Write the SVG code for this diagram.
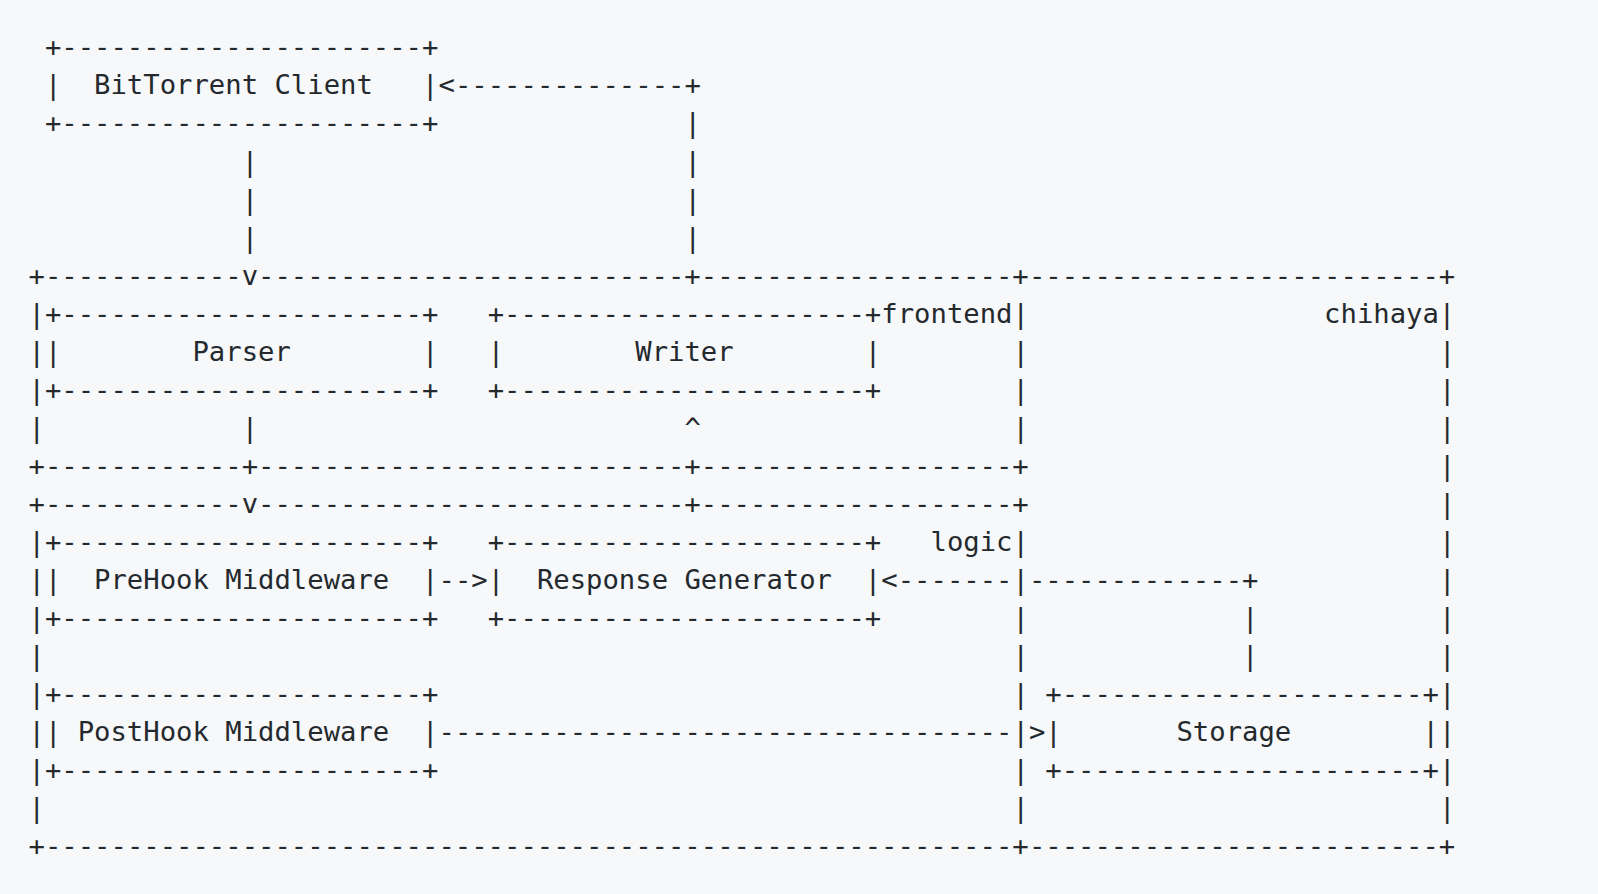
<svg xmlns="http://www.w3.org/2000/svg" width="1598" height="894" viewBox="0 0 1598 894" xml:space="preserve">
<style>
text{font-family:"DejaVu Sans Mono","Liberation Mono",monospace;font-size:27.24px;fill:#24292e;white-space:pre}
</style>
<rect x="0" y="0" width="1598" height="894" fill="#f6f8fa"/>
<g id="diagram" transform="translate(0,-1.2)">
<g id="bittorrent-client">
<text x="44.9" y="57.6">+----------------------+</text>
<text x="44.9" y="95.65">|  BitTorrent Client   |</text>
<text x="44.9" y="133.7">+----------------------+</text>
</g>
<g id="frontend">
<text x="28.5" y="285.9">+------------v--------------------------+-------------------+</text>
<text x="28.5" y="323.95">|</text>
<text x="881.3" y="323.95">frontend|</text>
<text x="28.5" y="362">|</text>
<text x="1012.5" y="362">|</text>
<text x="28.5" y="400.05">|</text>
<text x="1012.5" y="400.05">|</text>
<text x="28.5" y="438.1">|</text>
<text x="1012.5" y="438.1">|</text>
<text x="28.5" y="476.15">+------------+--------------------------+-------------------+</text>
</g>
<g id="logic">
<text x="28.5" y="514.2">+------------v--------------------------+-------------------+</text>
<text x="28.5" y="552.25">|</text>
<text x="930.5" y="552.25">logic|</text>
<text x="28.5" y="590.3">|</text>
<text x="1012.5" y="590.3">|</text>
<text x="28.5" y="628.35">|</text>
<text x="1012.5" y="628.35">|</text>
<text x="28.5" y="666.4">|</text>
<text x="1012.5" y="666.4">|</text>
<text x="28.5" y="704.45">|</text>
<text x="1012.5" y="704.45">|</text>
<text x="28.5" y="742.5">|</text>
<text x="1012.5" y="742.5">|</text>
<text x="28.5" y="780.55">|</text>
<text x="1012.5" y="780.55">|</text>
<text x="28.5" y="818.6">|</text>
<text x="1012.5" y="818.6">|</text>
<text x="28.5" y="856.65">+-----------------------------------------------------------+</text>
</g>
<g id="chihaya">
<text x="1028.9" y="285.9">-------------------------+</text>
<text x="1324.1" y="323.95">chihaya|</text>
<text x="1438.9" y="362">|</text>
<text x="1438.9" y="400.05">|</text>
<text x="1438.9" y="438.1">|</text>
<text x="1438.9" y="476.15">|</text>
<text x="1438.9" y="514.2">|</text>
<text x="1438.9" y="552.25">|</text>
<text x="1438.9" y="590.3">|</text>
<text x="1438.9" y="628.35">|</text>
<text x="1438.9" y="666.4">|</text>
<text x="1438.9" y="704.45">|</text>
<text x="1438.9" y="742.5">|</text>
<text x="1438.9" y="780.55">|</text>
<text x="1438.9" y="818.6">|</text>
<text x="1028.9" y="856.65">-------------------------+</text>
</g>
<g id="parser">
<text x="44.9" y="323.95">+----------------------+</text>
<text x="44.9" y="362">|        Parser        |</text>
<text x="44.9" y="400.05">+----------------------+</text>
</g>
<g id="writer">
<text x="487.7" y="323.95">+----------------------+</text>
<text x="487.7" y="362">|        Writer        |</text>
<text x="487.7" y="400.05">+----------------------+</text>
</g>
<g id="prehook-middleware">
<text x="44.9" y="552.25">+----------------------+</text>
<text x="44.9" y="590.3">|  PreHook Middleware  |</text>
<text x="44.9" y="628.35">+----------------------+</text>
</g>
<g id="response-generator">
<text x="487.7" y="552.25">+----------------------+</text>
<text x="487.7" y="590.3">|  Response Generator  |</text>
<text x="487.7" y="628.35">+----------------------+</text>
</g>
<g id="posthook-middleware">
<text x="44.9" y="704.45">+----------------------+</text>
<text x="44.9" y="742.5">| PostHook Middleware  |</text>
<text x="44.9" y="780.55">+----------------------+</text>
</g>
<g id="storage">
<text x="1045.3" y="704.45">+----------------------+</text>
<text x="1045.3" y="742.5">|       Storage        |</text>
<text x="1045.3" y="780.55">+----------------------+</text>
</g>
<g id="connectors">
<text x="438.5" y="95.65">&lt;--------------+</text>
<text x="684.5" y="133.7">|</text>
<text x="241.7" y="171.75">|</text>
<text x="684.5" y="171.75">|</text>
<text x="241.7" y="209.8">|</text>
<text x="684.5" y="209.8">|</text>
<text x="241.7" y="247.85">|</text>
<text x="684.5" y="247.85">|</text>
<text x="241.7" y="438.1">|</text>
<text x="684.5" y="438.1">^</text>
<text x="438.5" y="590.3">--&gt;</text>
<text x="881.3" y="590.3">&lt;-------</text>
<text x="1028.9" y="590.3">-------------+</text>
<text x="1242.1" y="628.35">|</text>
<text x="1242.1" y="666.4">|</text>
<text x="438.5" y="742.5">-----------------------------------</text>
<text x="1028.9" y="742.5">&gt;</text>
</g>
</g>
</svg>
